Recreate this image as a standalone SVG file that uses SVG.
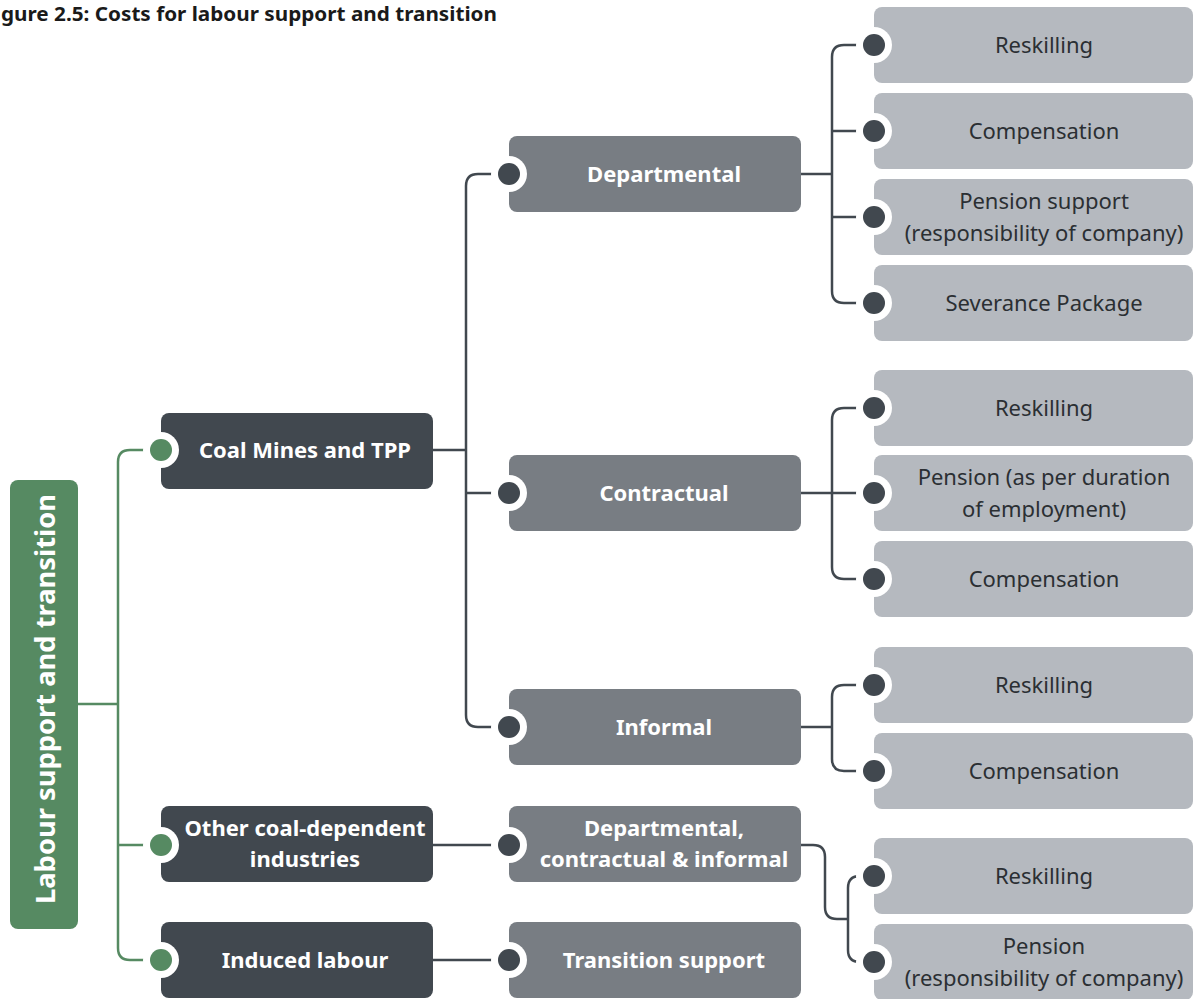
<svg xmlns="http://www.w3.org/2000/svg" width="1195" height="999" viewBox="0 0 1195 999">
<style>
text{font-family:"Noto Sans","Open Sans","Liberation Sans",sans-serif;}
.title{font-size:20px;font-weight:bold;fill:#1a1a1a;}
.root{fill:#568a62;}
.l1{fill:#41484f;}
.l2{fill:#787d83;}
.l3{fill:#b5b9bf;}
.tw{fill:#fff;font-size:22px;font-weight:bold;text-anchor:middle;}
.td{fill:#2b2f33;font-size:22px;text-anchor:middle;}
.ring{fill:#fff;}
.dg{fill:#568a62;}
.dd{fill:#41484f;}
.cg{fill:none;stroke:#568a62;stroke-width:2.5;}
.cd{fill:none;stroke:#41484f;stroke-width:2.5;}
</style>
<text class="title" x="1" y="21" textLength="496" lengthAdjust="spacingAndGlyphs">gure 2.5: Costs for labour support and transition</text>

<g id="connectors">
<path class="cg" d="M77 704 H118"/>
<path class="cg" d="M158 450 H130 Q118 450 118 462 V948 Q118 960 130 960 H158"/>
<path class="cg" d="M118 845 H158"/>
<path class="cd" d="M433 450 H466"/>
<path class="cd" d="M509 174 H478 Q466 174 466 186 V715 Q466 727 478 727 H509"/>
<path class="cd" d="M466 493 H509"/>
<path class="cd" d="M433 845 H509"/>
<path class="cd" d="M433 960 H509"/>
<path class="cd" d="M801 174 H832"/>
<path class="cd" d="M874 45 H844 Q832 45 832 57 V291 Q832 303 844 303 H874"/>
<path class="cd" d="M832 131 H874"/>
<path class="cd" d="M832 217 H874"/>
<path class="cd" d="M801 493 H874"/>
<path class="cd" d="M874 408 H844 Q832 408 832 420 V567 Q832 579 844 579 H874"/>
<path class="cd" d="M801 727 H832"/>
<path class="cd" d="M874 685 H844 Q832 685 832 697 V759 Q832 771 844 771 H874"/>
<path class="cd" d="M801 845 H813 Q825 845 825 857 V907 Q825 919 837 919 H848"/>
<path class="cd" d="M874 876 H860 Q848 876 848 888 V950 Q848 962 860 962 H874"/>
</g>

<g id="root">
<rect class="root" x="10" y="480" width="68" height="449" rx="8"/>
<text class="tw" transform="translate(55 699) rotate(-90)" x="0" y="0" style="font-size:27px" textLength="410" lengthAdjust="spacingAndGlyphs">Labour support and transition</text>
</g>

<g id="coal-mines">
<rect class="l1" x="161" y="413" width="272" height="76" rx="8"/>
<circle class="ring" cx="161" cy="450" r="18"/><circle class="dg" cx="161" cy="450" r="11"/>
<text class="tw" x="305" y="458">Coal Mines and TPP</text>
</g>
<g id="other-coal">
<rect class="l1" x="161" y="806" width="272" height="76" rx="8"/>
<circle class="ring" cx="161" cy="845" r="18"/><circle class="dg" cx="161" cy="845" r="11"/>
<text class="tw" x="305" y="836">Other coal-dependent</text>
<text class="tw" x="305" y="867">industries</text>
</g>
<g id="induced">
<rect class="l1" x="161" y="922" width="272" height="76" rx="8"/>
<circle class="ring" cx="161" cy="960" r="18"/><circle class="dg" cx="161" cy="960" r="11"/>
<text class="tw" x="305" y="968">Induced labour</text>
</g>

<g id="departmental">
<rect class="l2" x="509" y="136" width="292" height="76" rx="8"/>
<circle class="ring" cx="509" cy="174" r="18"/><circle class="dd" cx="509" cy="174" r="11"/>
<text class="tw" x="664" y="182">Departmental</text>
</g>
<g id="contractual">
<rect class="l2" x="509" y="455" width="292" height="76" rx="8"/>
<circle class="ring" cx="509" cy="493" r="18"/><circle class="dd" cx="509" cy="493" r="11"/>
<text class="tw" x="664" y="501">Contractual</text>
</g>
<g id="informal">
<rect class="l2" x="509" y="689" width="292" height="76" rx="8"/>
<circle class="ring" cx="509" cy="727" r="18"/><circle class="dd" cx="509" cy="727" r="11"/>
<text class="tw" x="664" y="735">Informal</text>
</g>
<g id="dci">
<rect class="l2" x="509" y="806" width="292" height="76" rx="8"/>
<circle class="ring" cx="509" cy="845" r="18"/><circle class="dd" cx="509" cy="845" r="11"/>
<text class="tw" x="664" y="836">Departmental,</text>
<text class="tw" x="664" y="867">contractual &amp; informal</text>
</g>
<g id="transition">
<rect class="l2" x="509" y="922" width="292" height="76" rx="8"/>
<circle class="ring" cx="509" cy="960" r="18"/><circle class="dd" cx="509" cy="960" r="11"/>
<text class="tw" x="664" y="968">Transition support</text>
</g>

<g id="d-reskilling">
<rect class="l3" x="874" y="7" width="319" height="76" rx="8"/>
<circle class="ring" cx="874" cy="45" r="18"/><circle class="dd" cx="874" cy="45" r="11"/>
<text class="td" x="1044" y="53">Reskilling</text>
</g>
<g id="d-compensation">
<rect class="l3" x="874" y="93" width="319" height="76" rx="8"/>
<circle class="ring" cx="874" cy="131" r="18"/><circle class="dd" cx="874" cy="131" r="11"/>
<text class="td" x="1044" y="139">Compensation</text>
</g>
<g id="d-pension">
<rect class="l3" x="874" y="179" width="319" height="76" rx="8"/>
<circle class="ring" cx="874" cy="217" r="18"/><circle class="dd" cx="874" cy="217" r="11"/>
<text class="td" x="1044" y="209">Pension support</text>
<text class="td" x="1044" y="241">(responsibility of company)</text>
</g>
<g id="d-severance">
<rect class="l3" x="874" y="265" width="319" height="76" rx="8"/>
<circle class="ring" cx="874" cy="303" r="18"/><circle class="dd" cx="874" cy="303" r="11"/>
<text class="td" x="1044" y="311">Severance Package</text>
</g>

<g id="c-reskilling">
<rect class="l3" x="874" y="370" width="319" height="76" rx="8"/>
<circle class="ring" cx="874" cy="408" r="18"/><circle class="dd" cx="874" cy="408" r="11"/>
<text class="td" x="1044" y="416">Reskilling</text>
</g>
<g id="c-pension">
<rect class="l3" x="874" y="455" width="319" height="76" rx="8"/>
<circle class="ring" cx="874" cy="493" r="18"/><circle class="dd" cx="874" cy="493" r="11"/>
<text class="td" x="1044" y="485">Pension (as per duration</text>
<text class="td" x="1044" y="517">of employment)</text>
</g>
<g id="c-compensation">
<rect class="l3" x="874" y="541" width="319" height="76" rx="8"/>
<circle class="ring" cx="874" cy="579" r="18"/><circle class="dd" cx="874" cy="579" r="11"/>
<text class="td" x="1044" y="587">Compensation</text>
</g>

<g id="i-reskilling">
<rect class="l3" x="874" y="647" width="319" height="76" rx="8"/>
<circle class="ring" cx="874" cy="685" r="18"/><circle class="dd" cx="874" cy="685" r="11"/>
<text class="td" x="1044" y="693">Reskilling</text>
</g>
<g id="i-compensation">
<rect class="l3" x="874" y="733" width="319" height="76" rx="8"/>
<circle class="ring" cx="874" cy="771" r="18"/><circle class="dd" cx="874" cy="771" r="11"/>
<text class="td" x="1044" y="779">Compensation</text>
</g>

<g id="o-reskilling">
<rect class="l3" x="874" y="838" width="319" height="76" rx="8"/>
<circle class="ring" cx="874" cy="876" r="18"/><circle class="dd" cx="874" cy="876" r="11"/>
<text class="td" x="1044" y="884">Reskilling</text>
</g>
<g id="o-pension">
<rect class="l3" x="874" y="924" width="319" height="76" rx="8"/>
<circle class="ring" cx="874" cy="962" r="18"/><circle class="dd" cx="874" cy="962" r="11"/>
<text class="td" x="1044" y="954">Pension</text>
<text class="td" x="1044" y="986">(responsibility of company)</text>
</g>
</svg>
